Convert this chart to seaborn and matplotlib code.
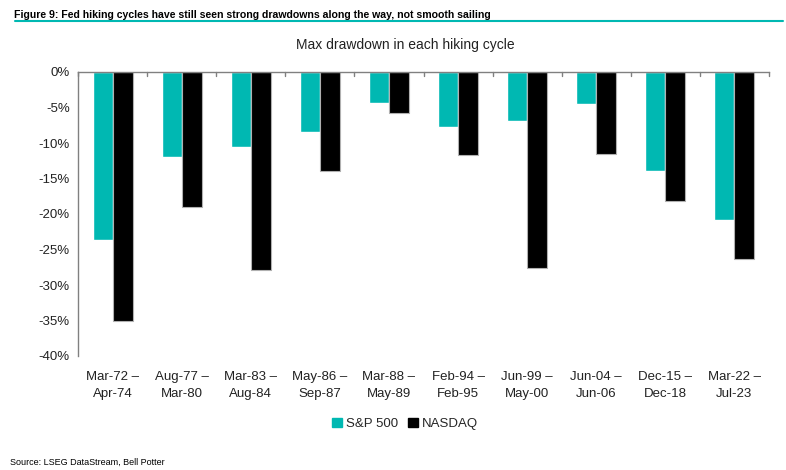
import pandas as pd
import numpy as np
import seaborn as sns
import matplotlib.pyplot as plt
from matplotlib.ticker import FuncFormatter

# Hiking cycles and max drawdowns (%)
cycles = ['Mar-72 –\nApr-74', 'Aug-77 –\nMar-80', 'Mar-83 –\nAug-84', 'May-86 –\nSep-87',
          'Mar-88 –\nMay-89', 'Feb-94 –\nFeb-95', 'Jun-99 –\nMay-00', 'Jun-04 –\nJun-06',
          'Dec-15 –\nDec-18', 'Mar-22 –\nJul-23']
sp500 = [-23.6, -12.0, -10.5, -8.5, -4.4, -7.8, -6.9, -4.5, -13.9, -20.8]
nasdaq = [-35.1, -19.0, -27.9, -13.9, -5.8, -11.7, -27.6, -11.6, -18.1, -26.4]

df = pd.DataFrame({'cycle': cycles * 2,
                   'drawdown': sp500 + nasdaq,
                   'index': ['S&P 500'] * len(cycles) + ['NASDAQ'] * len(cycles)})

sns.set_style('white')
plt.rcParams['font.family'] = ['Liberation Sans', 'DejaVu Sans']

fig = plt.figure(figsize=(7.86, 4.70), dpi=100)
ax = fig.add_axes([78 / 786, 1 - 356 / 470, (769 - 78) / 786, (356 - 72) / 470])

teal = '#00B8B2'
sns.barplot(data=df, x='cycle', y='drawdown', hue='index', palette=[teal, 'black'],
            width=0.58, ax=ax, legend=False, saturation=1)
for patch in ax.patches[len(cycles):]:
    patch.set_edgecolor('#b0b0b0')
    patch.set_linewidth(0.8)

ax.set_ylim(-40, 0)
ax.set_xlim(-0.5, len(cycles) - 0.5)
ax.set_yticks(np.arange(-40, 1, 5))
ax.yaxis.set_major_formatter(FuncFormatter(lambda v, p: f'{v:.0f}%'))
ax.set_xlabel('')
ax.set_ylabel('')

for s in ['right', 'bottom']:
    ax.spines[s].set_visible(False)
for s in ['left', 'top']:
    ax.spines[s].set_color('#808080')
    ax.spines[s].set_linewidth(1)

# boundary ticks on the zero line
ax.set_xticks(np.arange(len(cycles)))
ax.set_xticklabels(cycles, fontsize=9.5, color='#222222', linespacing=1.5)
ax.tick_params(axis='x', length=0, pad=11)
ax.tick_params(axis='y', length=0, labelsize=9.5, labelcolor='#222222', pad=6)
for b in np.arange(-0.5, len(cycles), 1.0):
    ax.plot([b, b], [0, -0.5], color='#808080', lw=1, clip_on=False)

fig.text(405 / 786, 1 - 45 / 470, 'Max drawdown in each hiking cycle', fontsize=10,
         color='#222222', ha='center', va='center')

fig.text(0.018, 0.962, 'Figure 9: Fed hiking cycles have still seen strong drawdowns along the way, not smooth sailing',
         fontsize=7.6, fontweight='bold', color='black')
fig.add_artist(plt.Line2D([15 / 786, 783 / 786], [1 - 21 / 470, 1 - 21 / 470], color=teal, lw=1.5))

handles = [plt.Rectangle((0, 0), 1, 1, color=teal), plt.Rectangle((0, 0), 1, 1, color='black')]
fig.legend(handles, ['S&P 500', 'NASDAQ'], loc='center', bbox_to_anchor=(405 / 786, 1 - 424 / 470),
           ncol=2, frameon=False, fontsize=9.5, handlelength=0.7, handleheight=0.7,
           handletextpad=0.3, columnspacing=0.8)

fig.text(0.013, 1 - 462 / 470, 'Source: LSEG DataStream, Bell Potter', fontsize=6.5, color='black', va='center')

fig.savefig('out.png', dpi=100)
